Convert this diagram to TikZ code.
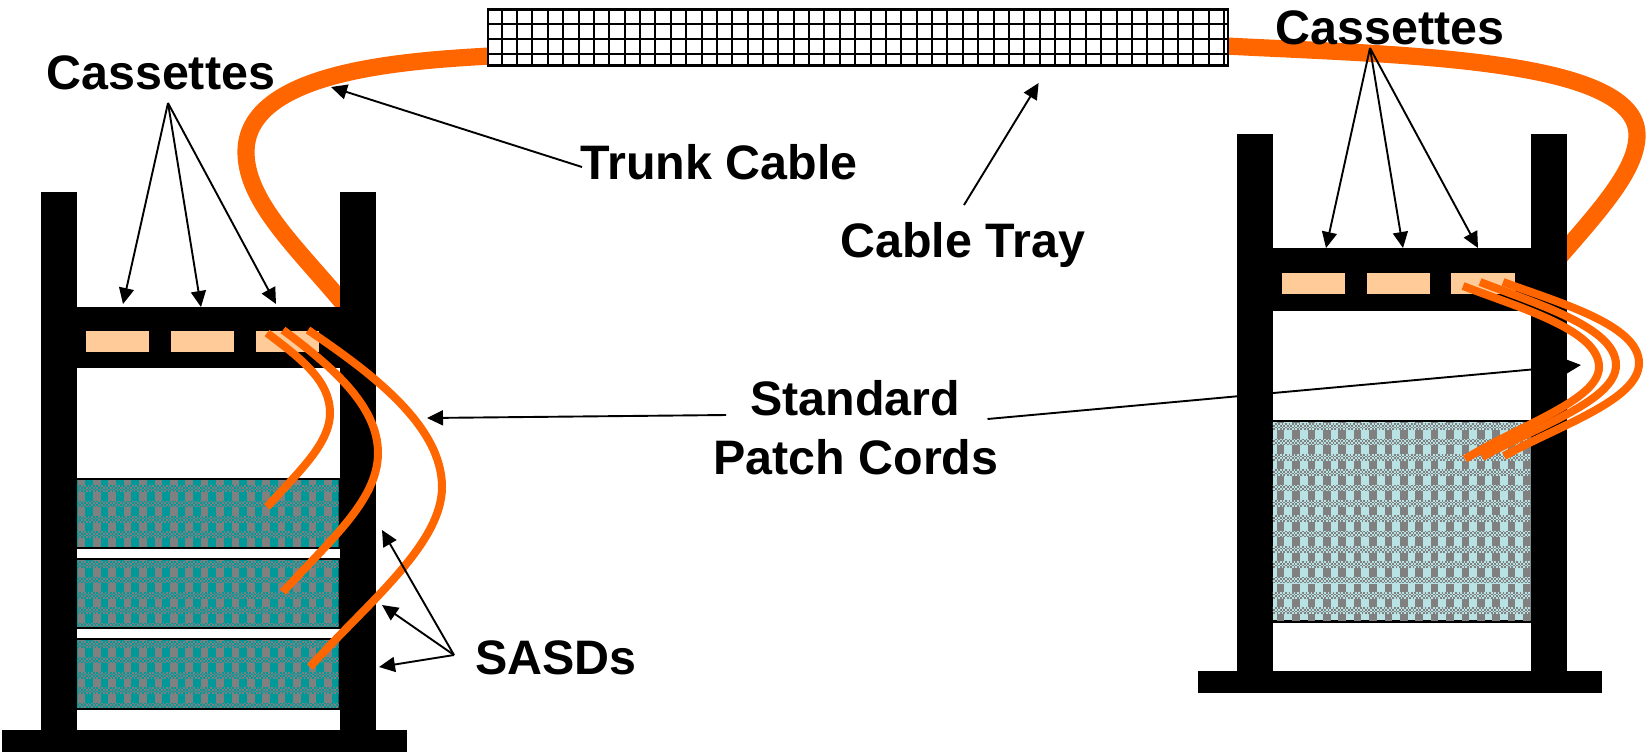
\documentclass[tikz,border=0pt]{standalone}
\usepackage{fontspec}
\setmainfont{Liberation Sans}
\usetikzlibrary{arrows.meta}
\definecolor{cord}{HTML}{FF6600}
\definecolor{cassette}{HTML}{FFCC99}
\definecolor{tealfill}{HTML}{009999}
\definecolor{palefill}{HTML}{B9E2E5}
\definecolor{blockgray}{HTML}{808080}
\tikzset{
  rackpart/.style={fill=black,draw=none},
  cassettebox/.style={fill=cassette,draw=none},
  trunkline/.style={draw=cord,line width=8.6pt},
  patchline/.style={draw=cord,line width=4pt},
  pointer/.style={draw=black,line width=0.95pt,-{Triangle[length=8pt,width=7.5pt]}},
  label/.style={anchor=base west,inner sep=0pt,font=\fontsize{24.2}{28}\selectfont\bfseries},
  gridline/.style={draw=black,line width=1pt}
}
% x0 y0 x1 y1 firstblockY colour grayStartX
\newcommand{\shelfpanel}[7]{%
  \begin{scope}
    \clip (#1,#2) rectangle (#3,#4);
    \fill[#6] (#1,#2) rectangle (#3,#4);
    \foreach \r in {-1,...,13}{%
      \pgfmathsetmacro{\by}{#5+\r*15.35+4.25}
      \draw[blockgray,line width=4.25pt,dash pattern=on 3.85pt off 3.85pt] (#7,\by) -- (#3+20,\by);
      \foreach \k in {0,1,2,3}{%
        \pgfmathsetmacro{\dy}{#5+\r*15.35+8.5+0.85+1.7*\k}
        \pgfmathsetmacro{\ph}{mod(\k,2)*0.85}
        \draw[blockgray,line width=0.85pt,dash pattern=on 0.85pt off 0.85pt,dash phase=\ph pt] (#7,\dy) -- (#3+20,\dy);
      }
    }
  \end{scope}%
}
\begin{document}
\begin{tikzpicture}[x=0.5pt,y=-0.5pt]
\useasboundingbox (0,0) rectangle (1648,752);
\fill[white] (0,0) rectangle (1648,752);

% trunk cable
\draw[trunkline] (490,56) .. controls (400,61) and (246,72) .. (246,152)
   .. controls (246,205) and (305,255) .. (352,314);
\draw[trunkline] (1226,46) .. controls (1400,55) and (1637,58) .. (1637,135)
   .. controls (1637,170) and (1600,210) .. (1555,262);

% cable tray
\fill[white] (488,9.5) rectangle (1228,65.5);
\foreach \i in {0,...,47}{\draw[gridline] ({501.7+\i*15.37},9.5) -- ({501.7+\i*15.37},65.5);}
\foreach \yy in {24,39.3,54.3}{\draw[gridline] (488,\yy) -- (1228,\yy);}
\draw[black,line width=1.2pt] (488,9.5) rectangle (1228,65.5);

% left rack
\fill[rackpart] (41,192) rectangle (76.7,735);
\fill[rackpart] (340,192) rectangle (375.7,735);
\fill[rackpart] (2,730) rectangle (407,751.5);
\fill[rackpart] (76,306.7) rectangle (341,368.3);
\foreach \a/\b in {85.7/149,170.7/234,256/319}{\fill[cassettebox] (\a,331) rectangle (\b,351.7);}
\fill[black] (76,477.5) rectangle (341,549);
\fill[black] (76,557.5) rectangle (341,628.5);
\fill[black] (76,637.5) rectangle (341,709.5);
\shelfpanel{76.7}{480}{338.5}{546.7}{492}{tealfill}{77.5}
\shelfpanel{76.7}{560}{338.5}{626.5}{568}{tealfill}{77.5}
\shelfpanel{76.7}{640}{338.5}{707.5}{648}{tealfill}{77.5}

% right rack
\coordinate (stdR) at (987.5,419);
\coordinate (stdRtip) at (1581,365);
\draw[pointer] (stdR) -- (stdRtip);
\fill[rackpart] (1237,134.3) rectangle (1272.7,680);
\fill[rackpart] (1530.7,134.3) rectangle (1566.7,680);
\fill[rackpart] (1198,671) rectangle (1602,692.7);
\fill[rackpart] (1272,248.3) rectangle (1531,311);
\foreach \a/\b in {1281.7/1345,1367/1430,1451/1515}{\fill[cassettebox] (\a,272.7) rectangle (\b,294.3);}
\fill[black] (1272,419.5) rectangle (1531,622.6);
\shelfpanel{1272.7}{422}{1530.7}{620}{430}{palefill}{1261.3}

% patch cords, left
\draw[patchline] (267,333) .. controls (300,358) and (330,380) .. (330,413)
   .. controls (330,445) and (295,475) .. (267,507);
\draw[patchline] (283,330) .. controls (330,365) and (378,405) .. (378,453)
   .. controls (378,500) and (330,540) .. (283,592);
\draw[patchline] (308,330) .. controls (370,372) and (442,425) .. (442,487)
   .. controls (442,545) and (365,605) .. (310,667);
% patch cords, right
\draw[patchline] (1463,286) .. controls (1520,308) and (1599,330) .. (1599,367)
   .. controls (1599,400) and (1520,425) .. (1465,459);
\draw[patchline] (1480,282) .. controls (1540,305) and (1616,328) .. (1616,365)
   .. controls (1616,400) and (1540,425) .. (1482,457);
\draw[patchline] (1503,282) .. controls (1560,303) and (1639,325) .. (1639,363)
   .. controls (1639,400) and (1560,425) .. (1504,456);

% labels
\node[label] (cassL) at (46,89) {Cassettes};
\node[label] (cassR) at (1275,44) {Cassettes};
\node[label] (trunk) at (580,179) {Trunk Cable};
\node[label] (tray) at (840,257) {Cable Tray};
\node[label] (std) at (750,415) {Standard};
\node[label] (patch) at (713,474) {Patch Cords};
\node[label] (sasd) at (475,674.5) {SASDs};

% pointers
\coordinate (cLa) at (168,103);
\coordinate (cL1) at (123,304);
\coordinate (cL2) at (201,307);
\coordinate (cL3) at (276,304);
\draw[pointer] (cLa) -- (cL1);
\draw[pointer] (cLa) -- (cL2);
\draw[pointer] (cLa) -- (cL3);
\coordinate (cRa) at (1370,48);
\coordinate (cR1) at (1326,248);
\coordinate (cR2) at (1403,248);
\coordinate (cR3) at (1478,248);
\draw[pointer] (cRa) -- (cR1);
\draw[pointer] (cRa) -- (cR2);
\draw[pointer] (cRa) -- (cR3);
\coordinate (tA) at (582,167);
\coordinate (tB) at (331,87);
\draw[pointer] (tA) -- (tB);
\coordinate (trA) at (964,205);
\coordinate (trB) at (1038.6,83);
\draw[pointer] (trA) -- (trB);
\coordinate (sL) at (726,415);
\coordinate (sLtip) at (427,418);
\draw[pointer] (sL) -- (sLtip);
\coordinate (sa) at (454,655);
\coordinate (s1) at (382,530);
\coordinate (s2) at (382,605);
\coordinate (s3) at (379,667);
\draw[pointer] (sa) -- (s1);
\draw[pointer] (sa) -- (s2);
\draw[pointer] (sa) -- (s3);
\end{tikzpicture}
\end{document}
